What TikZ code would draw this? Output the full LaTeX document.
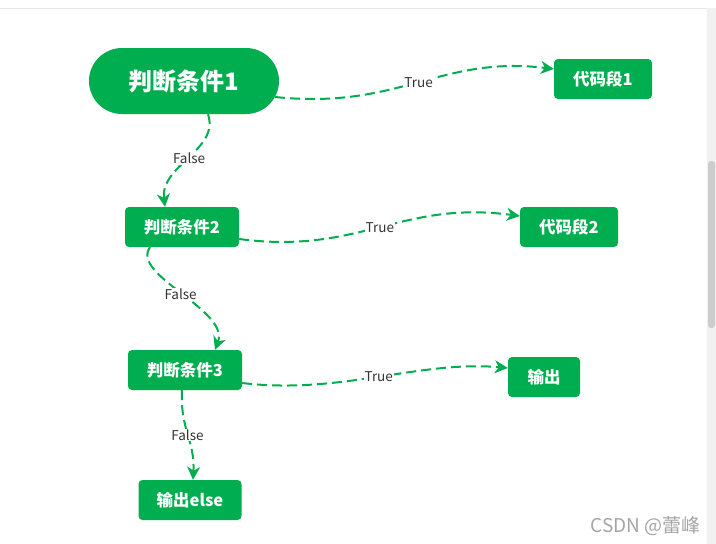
\documentclass[tikz,border=0pt]{standalone}
\usepackage{fontspec}
\setmainfont{Noto Sans CJK SC}
\usetikzlibrary{arrows.meta}
\definecolor{flowgreen}{RGB}{0,174,80}
\definecolor{lbltext}{RGB}{51,51,51}
\definecolor{markgray}{RGB}{165,165,165}

\begin{document}
\begin{tikzpicture}[x=1pt,y=-1pt,box/.style={draw=none,fill=flowgreen,text=white,rounded corners=4pt,minimum height=40pt,inner xsep=18pt,font=\bfseries\fontsize{16.5}{19}\selectfont},startbox/.style={box,rounded corners=33pt,minimum width=190pt,minimum height=66pt,font=\bfseries\fontsize{24}{28}\selectfont},flow/.style={draw=flowgreen,line width=2pt,dash pattern=on 10pt off 5pt,-{Stealth[length=13pt,width=13pt,inset=4pt]}},edgelbl/.style={fill=white,text=lbltext,inner sep=1pt,font=\fontsize{13.5}{15}\selectfont}]
\useasboundingbox (0,0) rectangle (716,544);

% page frame and scrollbar
\fill[white] (0,0) rectangle (716,544);
\draw[color={rgb,255:red,229;green,229;blue,229},line width=1pt] (0,8) -- (707,8);
\fill[color={rgb,255:red,241;green,241;blue,241}] (707,8) rectangle (716,544);
\fill[color={rgb,255:red,205;green,205;blue,205},rounded corners=3pt] (708,161) rectangle (715,328);

% conditions
\node[startbox] (n1) at (184,81) {判断条件1};
\node[box,minimum width=114pt] (n2) at (182,227) {判断条件2};
\node[box,minimum width=114pt] (n3) at (185,370) {判断条件3};

% results
\node[box,minimum width=98pt] (d1) at (603,79) {代码段1};
\node[box,minimum width=98pt] (d2) at (569,227) {代码段2};
\node[box,minimum width=72pt] (o1) at (544,377) {输出};
\node[box,minimum width=103pt] (o2) at (190,500) {输出else};

% true branches
\draw[flow] ([xshift=-4pt,yshift=-16pt]n1.east) .. controls (400,110) and (440,55) .. node[edgelbl,pos=0.5] {True} ([yshift=10pt]d1.west);
\draw[flow] ([yshift=-12pt]n2.east) .. controls (360,255) and (400,200) .. node[edgelbl,pos=0.5] {True} ([yshift=11pt]d2.west);
\draw[flow] ([yshift=-13pt]n3.east) .. controls (340,395) and (420,360) .. node[edgelbl,pos=0.5] {True} ([yshift=9pt]o1.west);

% false branches
\draw[flow] ([xshift=24pt]n1.south) .. controls (220,150) and (160,165) .. node[edgelbl,pos=0.5] {False} ([xshift=-17pt]n2.north);
\draw[flow] ([xshift=-32pt]n2.south) .. controls (130,275) and (230,310) .. node[edgelbl,pos=0.5] {False} ([xshift=30pt]n3.north);
\draw[flow] ([xshift=-3pt]n3.south) .. controls (180,430) and (195,440) .. node[edgelbl,pos=0.5] {False} ([xshift=3pt]o2.north);

% watermark
\node[anchor=east,text=markgray,inner sep=0pt,font=\fontsize{19}{22}\selectfont] (mark) at (701,526) {CSDN @蕾峰};

\end{tikzpicture}
\end{document}
